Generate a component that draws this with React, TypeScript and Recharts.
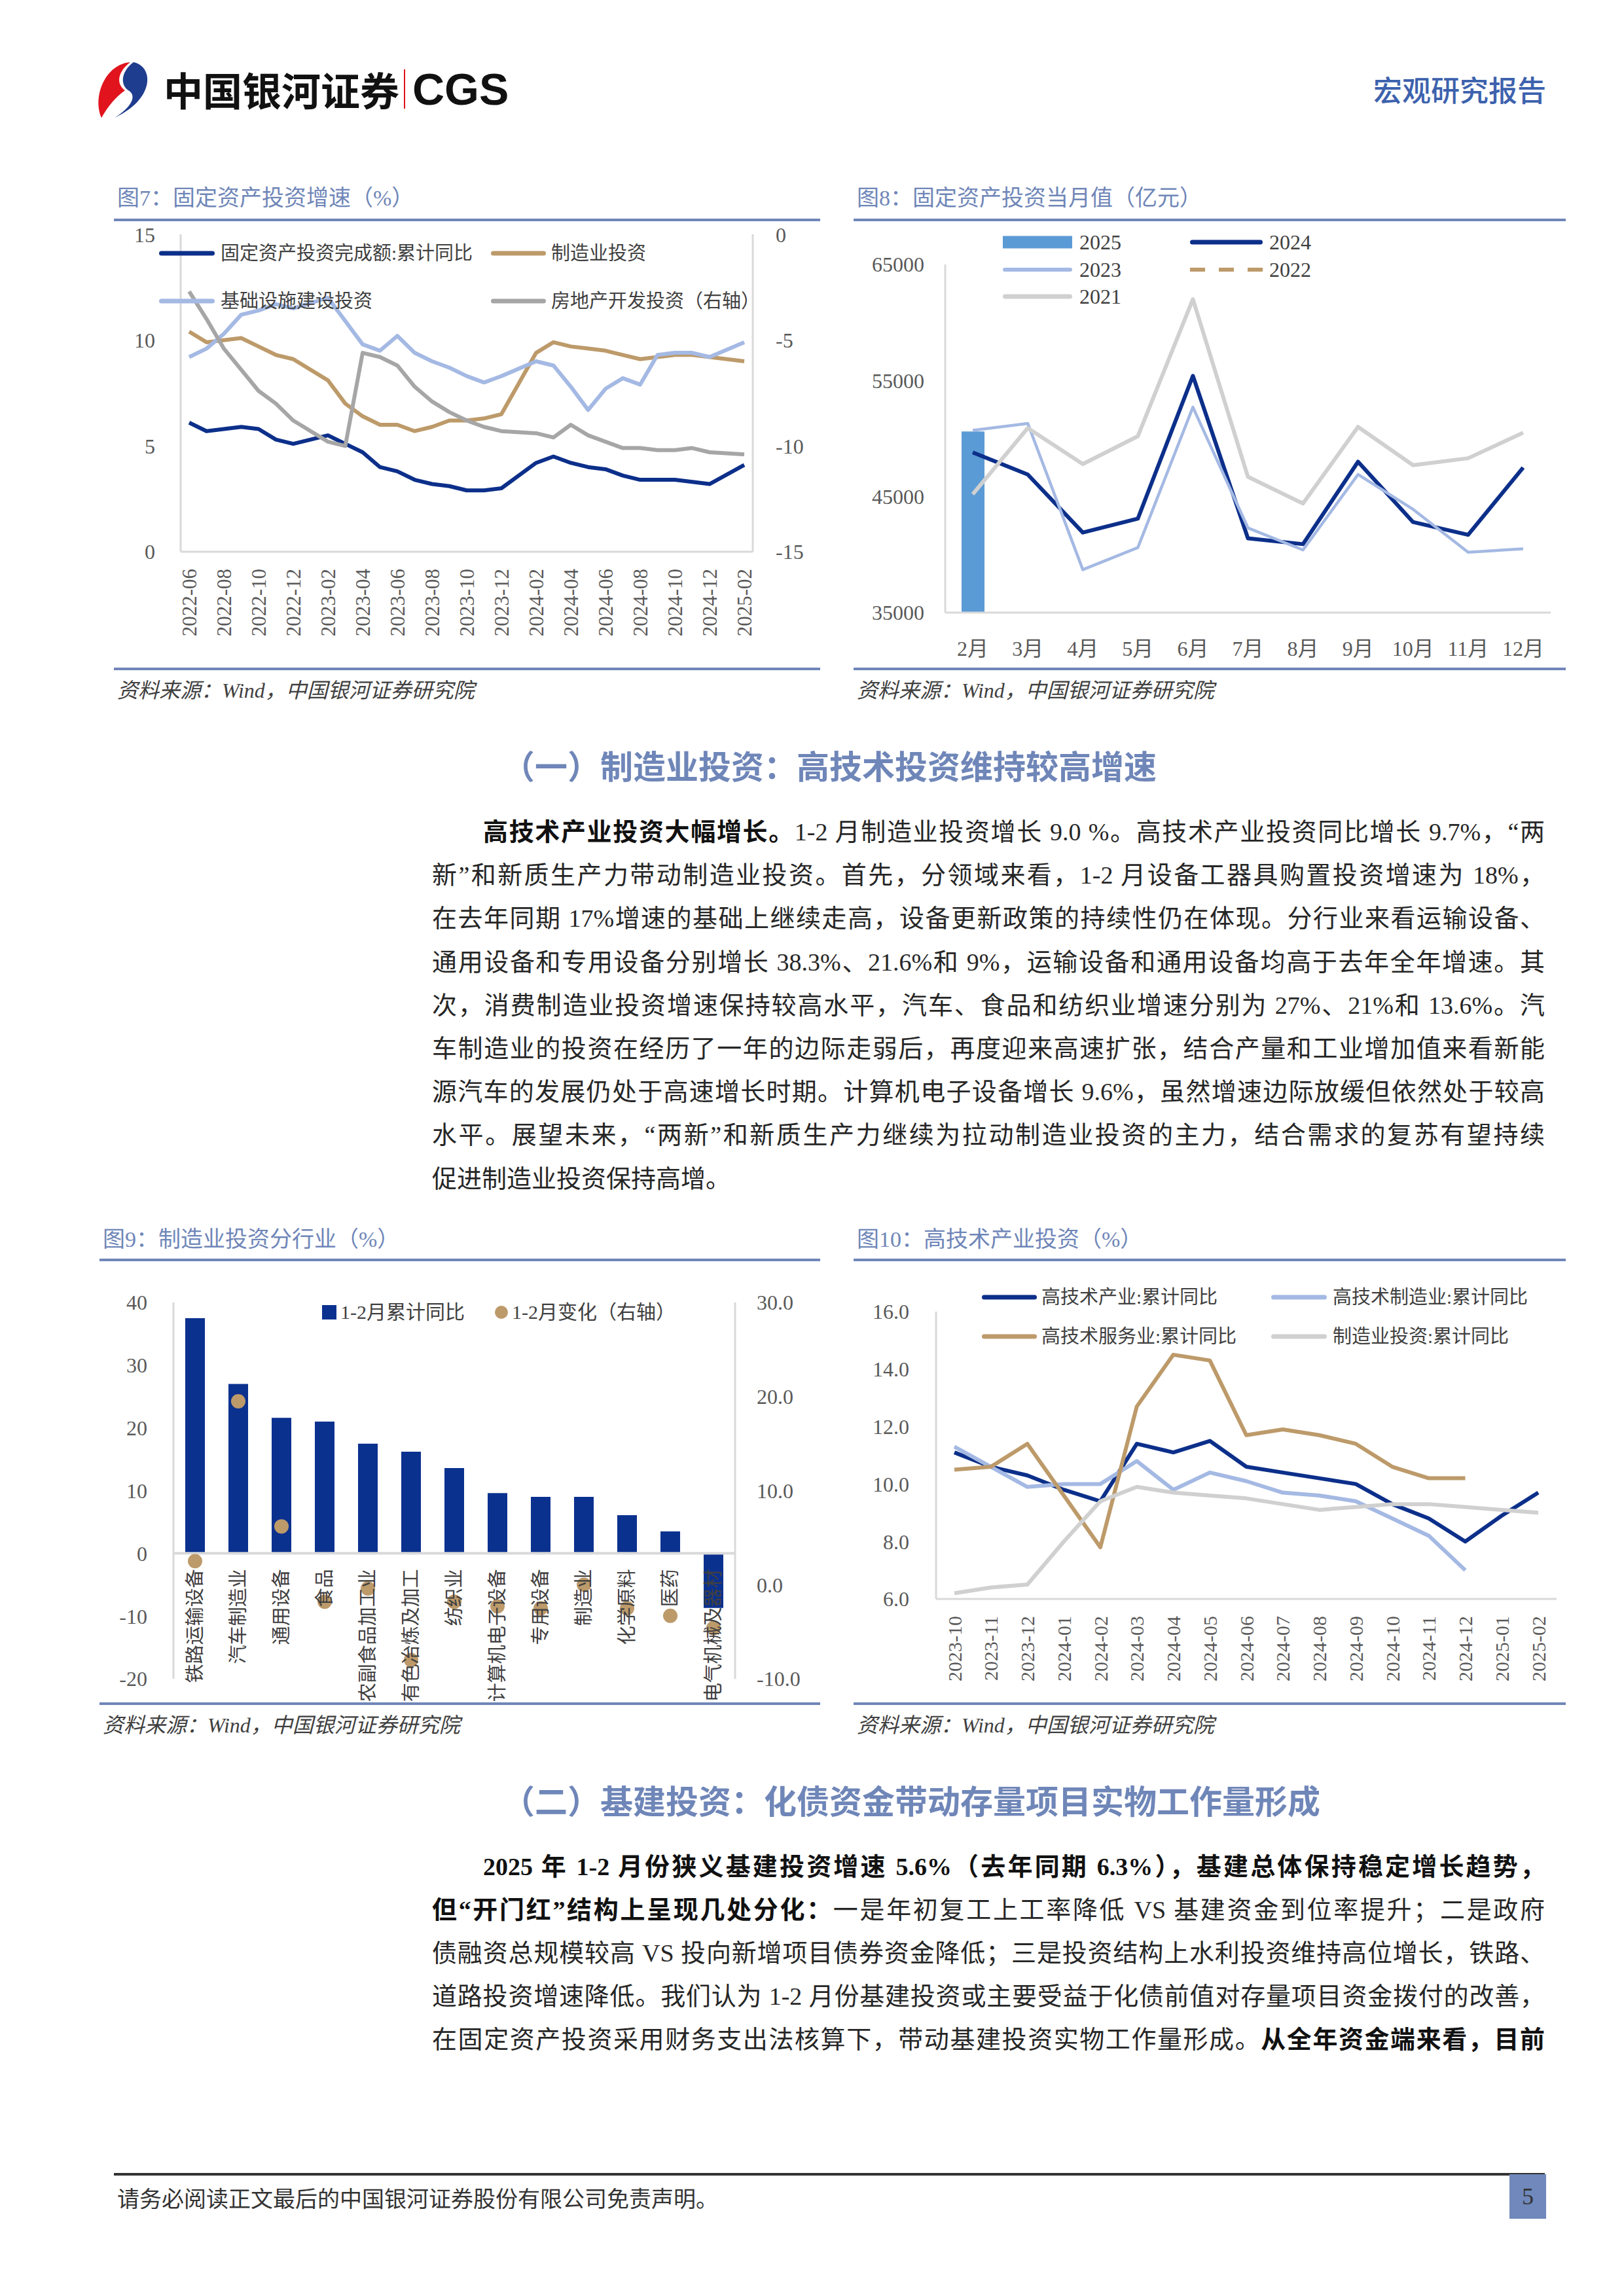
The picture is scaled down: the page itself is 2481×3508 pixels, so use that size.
import React from "react";
import { ComposedChart, Line, Bar, XAxis, YAxis, ReferenceLine } from "recharts";

/* ---------- fonts & colours ---------- */
const SERIF = '"Liberation Serif", "Noto Sans CJK SC", serif';
const SANS = '"Noto Sans CJK SC", "Noto Sans", sans-serif';

const NAVY = "#0c2f8a";
const LIGHT = "#a4b9e3";
const BROWN = "#bd9a6a";
const GRAY_DK = "#a6a6a6";
const GRAY_LT = "#d0d0d0";
const BAR_SKY = "#5b9bd5";
const BAR_NAVY = "#0b318f";
const TITLE = "#6f86b8";
const AXIS = "#d9d9d9";
const TICK = "#595959";
const TEXT = "#404040";

/* ---------- 图7 data ---------- */
const fig7Months = [
  "2022-06", "2022-07", "2022-08", "2022-09", "2022-10", "2022-11", "2022-12",
  "2023-01", "2023-02", "2023-03", "2023-04", "2023-05", "2023-06", "2023-07",
  "2023-08", "2023-09", "2023-10", "2023-11", "2023-12", "2024-01", "2024-02",
  "2024-03", "2024-04", "2024-05", "2024-06", "2024-07", "2024-08", "2024-09",
  "2024-10", "2024-11", "2024-12", "2025-01", "2025-02",
];
const fig7Fai = [6.1, 5.7, 5.8, 5.9, 5.8, 5.3, 5.1, null, 5.5, 5.1, 4.7, 4.0, 3.8, 3.4, 3.2, 3.1, 2.9, 2.9, 3.0, null, 4.2, 4.5, 4.2, 4.0, 3.9, 3.6, 3.4, 3.4, 3.4, 3.3, 3.2, null, 4.1];
const fig7Mfg = [10.4, 9.9, 10.0, 10.1, 9.7, 9.3, 9.1, null, 8.1, 7.0, 6.4, 6.0, 6.0, 5.7, 5.9, 6.2, 6.2, 6.3, 6.5, null, 9.4, 9.9, 9.7, 9.6, 9.5, 9.3, 9.1, 9.2, 9.3, 9.3, 9.2, null, 9.0];
const fig7Infra = [9.2, 9.6, 10.3, 11.2, 11.4, 11.7, 11.5, null, 12.0, 10.9, 9.8, 9.5, 10.2, 9.4, 9.0, 8.7, 8.3, 8.0, 8.3, null, 9.0, 8.8, 7.8, 6.7, 7.7, 8.2, 7.9, 9.3, 9.4, 9.4, 9.2, null, 9.9];
const fig7Re = [-2.7, -4.0, -5.4, -6.4, -7.4, -8.0, -8.8, null, -9.8, -10.0, -5.6, -5.8, -6.2, -7.2, -7.9, -8.4, -8.8, -9.1, -9.3, null, -9.4, -9.6, -9.0, -9.5, -9.8, -10.1, -10.1, -10.2, -10.2, -10.1, -10.3, null, -10.4];
const fig7Names = ["固定资产投资完成额:累计同比", "制造业投资", "基础设施建设投资", "房地产开发投资（右轴）"];

/* ---------- 图8 data ---------- */
const fig8Months = ["2月", "3月", "4月", "5月", "6月", "7月", "8月", "9月", "10月", "11月", "12月"];
const fig8Y2025 = [50600, null, null, null, null, null, null, null, null, null, null];
const fig8Y2024 = [48800, 46900, 41900, 43100, 55400, 41400, 40900, 48000, 42800, 41700, 47500];
const fig8Y2023 = [50700, 51300, 38700, 40600, 52700, 42300, 40400, 46900, 43900, 40200, 40500];
const fig8Y2022 = [null, null, null, null, null, null, null, null, null, null, null];
const fig8Y2021 = [45200, 50900, 47800, 50200, 62000, 46700, 44400, 51000, 47700, 48300, 50500];

/* ---------- 图9 data ---------- */
const fig9Industries = ["铁路运输设备", "汽车制造业", "通用设备", "食品", "农副食品加工业", "有色冶炼及加工", "纺织业", "计算机电子设备", "专用设备", "制造业", "化学原料", "医药", "电气机械及器材"];
const fig9Ytd = [37.5, 27.0, 21.6, 21.0, 17.5, 16.2, 13.6, 9.6, 9.0, 9.0, 6.1, 3.5, -8.7];
const fig9Change = [2.5, 19.5, 6.2, -1.8, -0.4, -8.0, -1.8, -2.3, -2.5, 0.0, -2.5, -3.3, -4.6];

/* ---------- 图10 data ---------- */
const fig10Months = ["2023-10", "2023-11", "2023-12", "2024-01", "2024-02", "2024-03", "2024-04", "2024-05", "2024-06", "2024-07", "2024-08", "2024-09", "2024-10", "2024-11", "2024-12", "2025-01", "2025-02"];
const fig10HighTech = [11.1, 10.6, 10.3, 9.8, 9.4, 11.4, 11.1, 11.5, 10.6, 10.4, 10.2, 10.0, 9.3, 8.8, 8.0, 8.9, 9.7];
const fig10HtMfg = [11.3, 10.6, 9.9, 10.0, 10.0, 10.8, 9.8, 10.4, 10.1, 9.7, 9.6, 9.4, 8.8, 8.2, 7.0, null, null];
const fig10HtSvc = [10.5, 10.6, 11.4, 9.6, 7.8, 12.7, 14.5, 14.3, 11.7, 11.9, 11.7, 11.4, 10.6, 10.2, 10.2, null, null];
const fig10Mfg = [6.2, 6.4, 6.5, 8.0, 9.4, 9.9, 9.7, 9.6, 9.5, 9.3, 9.1, 9.2, 9.3, 9.3, 9.2, 9.1, 9.0];
const fig10Names = ["高技术产业:累计同比", "高技术制造业:累计同比", "高技术服务业:累计同比", "制造业投资:累计同比"];

const fig7Data = fig7Months.map((m, i) => ({ m, fai: fig7Fai[i], mfg: fig7Mfg[i], infra: fig7Infra[i], re: fig7Re[i] }));
const fig8Data = fig8Months.map((m, i) => ({ m, y2025: fig8Y2025[i], y2024: fig8Y2024[i], y2023: fig8Y2023[i], y2022: fig8Y2022[i], y2021: fig8Y2021[i] }));
const fig9Data = fig9Industries.map((name, i) => ({ name, ytd: fig9Ytd[i], chg: fig9Change[i] }));
const fig10Data = fig10Months.map((m, i) => ({ m, ht: fig10HighTech[i], htm: fig10HtMfg[i], hts: fig10HtSvc[i], mfg: fig10Mfg[i] }));

const axisLine = { stroke: AXIS, strokeWidth: 3 };
const yTick = { fontSize: 32, fill: TICK, fontFamily: SERIF };

/* rotated category label, reads bottom-to-top, top end at y + gap */
function VTick(props: any) {
  const { x, y, payload, gap = 24, size = 30, lift = 0, color = TICK } = props;
  const ty = y + gap - lift;
  return (
    <text x={x} y={ty} transform={`rotate(-90 ${x} ${ty})`} textAnchor="end" dominantBaseline="central" fontSize={size} fill={color} fontFamily={SERIF}>
      {payload.value}
    </text>
  );
}

function Txt({ x, right, cy, size, children, color = TEXT, weight = 400, family = SERIF, italic = false }: any) {
  const lh = Math.round(size * 1.4);
  return (
    <div
      style={{
        position: "absolute", left: x, right, top: cy - lh / 2, height: lh, lineHeight: `${lh}px`,
        fontSize: size, color, fontWeight: weight, fontFamily: family,
        fontStyle: italic ? "italic" : "normal", whiteSpace: "nowrap",
      }}
    >
      {children}
    </div>
  );
}

function LegendItem({ x, cy, w, kind, color, thick = 7, label, textX, size = 29 }: any) {
  return (
    <>
      <svg style={{ position: "absolute", left: x, top: cy - 12 }} width={w} height={24}>
        {kind === "line" && <line x1={thick / 2} x2={w - thick / 2} y1={12} y2={12} stroke={color} strokeWidth={thick} strokeLinecap="round" />}
        {kind === "dash" && <line x1={0} x2={w} y1={12} y2={12} stroke={color} strokeWidth={thick} strokeDasharray="23 21" />}
        {kind === "rect" && <rect x={0} y={2.5} width={w} height={19} fill={color} />}
        {kind === "square" && <rect x={0} y={1} width={w} height={22} fill={color} />}
        {kind === "dot" && <circle cx={w / 2} cy={12} r={10} fill={color} />}
      </svg>
      <Txt x={textX} cy={cy} size={size}>{label}</Txt>
    </>
  );
}

function ChartFrame({ x, w, titleY, lineY, capLineY, capY, title }: any) {
  return (
    <>
      <Txt x={x + 5} cy={titleY} size={34} color={TITLE}>{title}</Txt>
      <div style={{ position: "absolute", left: x, top: lineY, width: w, height: 4, background: TITLE }} />
      <div style={{ position: "absolute", left: x, top: capLineY, width: w, height: 4, background: TITLE }} />
      <Txt x={x + 5} cy={capY} size={32} italic>资料来源：Wind，中国银河证券研究院</Txt>
    </>
  );
}

/* ---------- 图7 ---------- */
function Fig7() {
  const colors = [NAVY, BROWN, LIGHT, GRAY_DK];
  return (
    <>
      <ChartFrame x={174} w={1079} titleY={303} lineY={334} capLineY={1020} capY={1055} title="图7：固定资产投资增速（%）" />
      <div style={{ position: "absolute", left: 174, top: 340 }}>
        <ComposedChart width={1080} height={643} data={fig7Data} margin={{ top: 18, right: 0, bottom: 0, left: 0 }}>
          <XAxis dataKey="m" scale="point" interval={1} padding={{ left: 13, right: 13 }} height={140} tickSize={0} axisLine={axisLine} tick={(p: any) => <VTick {...p} gap={24} size={31} />} />
          <YAxis yAxisId="l" domain={[0, 15]} ticks={[0, 5, 10, 15]} width={102} tickSize={0} tickMargin={39} axisLine={axisLine} tick={yTick} />
          <YAxis yAxisId="r" orientation="right" domain={[-15, 0]} ticks={[-15, -10, -5, 0]} width={104} tickSize={0} tickMargin={35} axisLine={axisLine} tick={yTick} />
          <Line yAxisId="l" dataKey="fai" stroke={NAVY} strokeWidth={6} dot={false} connectNulls strokeLinejoin="round" isAnimationActive={false} />
          <Line yAxisId="l" dataKey="mfg" stroke={BROWN} strokeWidth={6} dot={false} connectNulls strokeLinejoin="round" isAnimationActive={false} />
          <Line yAxisId="l" dataKey="infra" stroke={LIGHT} strokeWidth={6} dot={false} connectNulls strokeLinejoin="round" isAnimationActive={false} />
          <Line yAxisId="r" dataKey="re" stroke={GRAY_DK} strokeWidth={6} dot={false} connectNulls strokeLinejoin="round" isAnimationActive={false} />
        </ComposedChart>
      </div>
      <LegendItem x={243} cy={387} w={85} kind="line" color={colors[0]} label={fig7Names[0]} textX={337} />
      <LegendItem x={750} cy={387} w={84} kind="line" color={colors[1]} label={fig7Names[1]} textX={842} />
      <LegendItem x={243} cy={460} w={85} kind="line" color={colors[2]} label={fig7Names[2]} textX={337} />
      <LegendItem x={750} cy={460} w={84} kind="line" color={colors[3]} label={fig7Names[3]} textX={842} />
    </>
  );
}

/* ---------- 图8 ---------- */
function Fig8() {
  return (
    <>
      <ChartFrame x={1304} w={1088} titleY={303} lineY={334} capLineY={1020} capY={1055} title="图8：固定资产投资当月值（亿元）" />
      <div style={{ position: "absolute", left: 1304, top: 380 }}>
        <ComposedChart width={1090} height={656} data={fig8Data} margin={{ top: 24, right: 25, bottom: 0, left: 0 }}>
          <XAxis
            dataKey="m" height={100} tickSize={0} axisLine={axisLine}
            tick={(p: any) => (
              <text x={p.x} y={p.y + 53} textAnchor="middle" dominantBaseline="central" fontSize={32} fill={TICK} fontFamily={SERIF}>{p.payload.value}</text>
            )}
          />
          <YAxis domain={[35000, 65000]} ticks={[35000, 45000, 55000, 65000]} width={140} tickSize={0} tickMargin={32} axisLine={axisLine} tick={yTick} />
          <Bar dataKey="y2025" fill={BAR_SKY} barSize={35} isAnimationActive={false} />
          <Line dataKey="y2024" stroke={NAVY} strokeWidth={6} dot={false} strokeLinejoin="round" isAnimationActive={false} />
          <Line dataKey="y2023" stroke={LIGHT} strokeWidth={4.5} dot={false} strokeLinejoin="round" isAnimationActive={false} />
          <Line dataKey="y2022" stroke={BROWN} strokeWidth={5} strokeDasharray="14 10" dot={false} isAnimationActive={false} />
          <Line dataKey="y2021" stroke={GRAY_LT} strokeWidth={6} dot={false} strokeLinejoin="round" isAnimationActive={false} />
        </ComposedChart>
      </div>
      <LegendItem x={1532} cy={370} w={106} kind="rect" color={BAR_SKY} label="2025" textX={1649} size={32} />
      <LegendItem x={1818} cy={370} w={111} kind="line" color={NAVY} label="2024" textX={1939} size={32} />
      <LegendItem x={1532} cy={412} w={106} kind="line" color={LIGHT} thick={6} label="2023" textX={1649} size={32} />
      <LegendItem x={1818} cy={412} w={111} kind="dash" color={BROWN} thick={6} label="2022" textX={1939} size={32} />
      <LegendItem x={1532} cy={453} w={106} kind="line" color={GRAY_LT} label="2021" textX={1649} size={32} />
    </>
  );
}

/* ---------- 图9 ---------- */
const FIG9_PLOT_H = 575;
const FIG9_LEFT = [-20, 40];
function Fig9() {
  const zeroLift = (FIG9_PLOT_H * (0 - FIG9_LEFT[0])) / (FIG9_LEFT[1] - FIG9_LEFT[0]);
  return (
    <>
      <ChartFrame x={152} w={1101} titleY={1894} lineY={1923} capLineY={2601} capY={2636} title="图9：制造业投资分行业（%）" />
      <div style={{ position: "absolute", left: 152, top: 1960 }}>
        <ComposedChart width={1101} height={645} data={fig9Data} margin={{ top: 30, right: 0, bottom: 0, left: 0 }}>
          <XAxis dataKey="name" height={40} tickSize={0} axisLine={false} interval={0}
            tick={(p: any) => <VTick {...p} gap={22} lift={zeroLift} size={29} color={TEXT} />} />
          <YAxis yAxisId="l" domain={FIG9_LEFT} ticks={[-20, -10, 0, 10, 20, 30, 40]} width={113} tickSize={0} tickMargin={40} axisLine={axisLine} tick={yTick} />
          <YAxis yAxisId="r" orientation="right" domain={[-10, 30]} ticks={[-10, 0, 10, 20, 30]} tickFormatter={(v: number) => v.toFixed(1)} width={130} tickSize={0} tickMargin={33} axisLine={axisLine} tick={yTick} />
          <ReferenceLine yAxisId="l" y={0} stroke={AXIS} strokeWidth={4} />
          <Bar yAxisId="l" dataKey="ytd" fill={BAR_NAVY} barSize={30} isAnimationActive={false} />
          <Line yAxisId="r" dataKey="chg" stroke="none" dot={{ r: 11, fill: BROWN, stroke: "none" }} activeDot={false} isAnimationActive={false} />
        </ComposedChart>
      </div>
      <LegendItem x={492} cy={2005} w={22} kind="square" color={BAR_NAVY} label="1-2月累计同比" textX={520} size={30} />
      <LegendItem x={756} cy={2005} w={20} kind="dot" color={BROWN} label="1-2月变化（右轴）" textX={782} size={30} />
    </>
  );
}

/* ---------- 图10 ---------- */
function Fig10() {
  return (
    <>
      <ChartFrame x={1304} w={1088} titleY={1894} lineY={1923} capLineY={2601} capY={2636} title="图10：高技术产业投资（%）" />
      <div style={{ position: "absolute", left: 1304, top: 1980 }}>
        <ComposedChart width={1090} height={603} data={fig10Data} margin={{ top: 24, right: 16, bottom: 0, left: 0 }}>
          <XAxis dataKey="m" scale="point" interval={0} padding={{ left: 28, right: 28 }} height={140} tickSize={0} axisLine={axisLine} tick={(p: any) => <VTick {...p} gap={24} size={30} />} />
          <YAxis domain={[6, 16]} ticks={[6, 8, 10, 12, 14, 16]} tickFormatter={(v: number) => v.toFixed(1)} width={126} tickSize={0} tickMargin={41} axisLine={axisLine} tick={yTick} />
          <Line dataKey="ht" stroke={NAVY} strokeWidth={6} dot={false} strokeLinejoin="round" isAnimationActive={false} />
          <Line dataKey="htm" stroke={LIGHT} strokeWidth={6} dot={false} strokeLinejoin="round" isAnimationActive={false} />
          <Line dataKey="hts" stroke={BROWN} strokeWidth={6} dot={false} strokeLinejoin="round" isAnimationActive={false} />
          <Line dataKey="mfg" stroke={GRAY_LT} strokeWidth={6} dot={false} strokeLinejoin="round" isAnimationActive={false} />
        </ComposedChart>
      </div>
      <LegendItem x={1500} cy={1982} w={84} kind="line" color={NAVY} label={fig10Names[0]} textX={1591} />
      <LegendItem x={1942} cy={1982} w={85} kind="line" color={LIGHT} label={fig10Names[1]} textX={2036} />
      <LegendItem x={1500} cy={2042} w={84} kind="line" color={BROWN} label={fig10Names[2]} textX={1591} />
      <LegendItem x={1942} cy={2042} w={85} kind="line" color={GRAY_LT} label={fig10Names[3]} textX={2036} />
    </>
  );
}

/* ---------- page text ---------- */
function BodyLine({ cy, indent = false, last = false, children }: any) {
  return (
    <div
      style={{
        position: "absolute", left: 660, width: 1700, top: cy - 33, height: 66, lineHeight: "66px",
        fontSize: 38, fontFamily: SERIF, color: "#262626", paddingLeft: indent ? 78 : 0, boxSizing: "border-box",
        textAlign: last ? "left" : "justify", textAlignLast: last ? "left" : "justify", overflow: "hidden",
      }}
    >
      {children}
    </div>
  );
}

const B = ({ children }: any) => <b style={{ fontWeight: 700, color: "#111" }}>{children}</b>;

function Header() {
  return (
    <>
      <svg style={{ position: "absolute", left: 139, top: 92 }} width={100} height={90} viewBox="0 0 100 90">
        <path d="M60 3 C 22 6, 2 55, 16 88 C 26 70, 38 56, 52 46 C 40 38, 38 20, 60 3 Z" fill="#e1141e" />
        <path d="M65 3 C 97 10, 97 60, 36 88 C 62 72, 71 54, 57 46 C 45 38, 45 18, 65 3 Z" fill="#1f3d8e" />
      </svg>
      <Txt x={250} cy={136} size={60} weight={700} family={SANS} color="#111">中国银河证券</Txt>
      <div style={{ position: "absolute", left: 617, top: 106, width: 2, height: 60, background: "#e1141e" }} />
      <Txt x={630} cy={136} size={68} weight={700} family='"Liberation Sans", Arial, sans-serif' color="#111">CGS</Txt>
      <Txt right={119} cy={136} size={44} weight={500} family={SANS} color="#3d62ad">宏观研究报告</Txt>
    </>
  );
}

export default function App() {
  return (
    <div style={{ position: "relative", width: 2481, height: 3508, background: "#fff", overflow: "hidden" }}>
      <style>{"body{margin:0}"}</style>
      <Header />
      <Fig7 />
      <Fig8 />

      <Txt x={767} cy={1168} size={50} weight={700} family={SANS} color={TITLE}>（一）制造业投资：高技术投资维持较高增速</Txt>
      <BodyLine cy={1271} indent><B>高技术产业投资大幅增长。</B>1-2 月制造业投资增长 9.0 %。高技术产业投资同比增长 9.7%，“两</BodyLine>
      <BodyLine cy={1337}>新”和新质生产力带动制造业投资。首先，分领域来看，1-2 月设备工器具购置投资增速为 18%，</BodyLine>
      <BodyLine cy={1403}>在去年同期 17%增速的基础上继续走高，设备更新政策的持续性仍在体现。分行业来看运输设备、</BodyLine>
      <BodyLine cy={1470}>通用设备和专用设备分别增长 38.3%、21.6%和 9%，运输设备和通用设备均高于去年全年增速。其</BodyLine>
      <BodyLine cy={1536}>次，消费制造业投资增速保持较高水平，汽车、食品和纺织业增速分别为 27%、21%和 13.6%。汽</BodyLine>
      <BodyLine cy={1602}>车制造业的投资在经历了一年的边际走弱后，再度迎来高速扩张，结合产量和工业增加值来看新能</BodyLine>
      <BodyLine cy={1668}>源汽车的发展仍处于高速增长时期。计算机电子设备增长 9.6%，虽然增速边际放缓但依然处于较高</BodyLine>
      <BodyLine cy={1734}>水平。展望未来，“两新”和新质生产力继续为拉动制造业投资的主力，结合需求的复苏有望持续</BodyLine>
      <BodyLine cy={1801} last>促进制造业投资保持高增。</BodyLine>

      <Fig9 />
      <Fig10 />

      <Txt x={767} cy={2749} size={50} weight={700} family={SANS} color={TITLE}>（二）基建投资：化债资金带动存量项目实物工作量形成</Txt>
      <BodyLine cy={2852} indent><B>2025 年 1-2 月份狭义基建投资增速 5.6%（去年同期 6.3%），基建总体保持稳定增长趋势，</B></BodyLine>
      <BodyLine cy={2918}><B>但“开门红”结构上呈现几处分化：</B>一是年初复工上工率降低 VS 基建资金到位率提升；二是政府</BodyLine>
      <BodyLine cy={2984}>债融资总规模较高 VS 投向新增项目债券资金降低；三是投资结构上水利投资维持高位增长，铁路、</BodyLine>
      <BodyLine cy={3050}>道路投资增速降低。我们认为 1-2 月份基建投资或主要受益于化债前值对存量项目资金拨付的改善，</BodyLine>
      <BodyLine cy={3116}>在固定资产投资采用财务支出法核算下，带动基建投资实物工作量形成。<B>从全年资金端来看，目前</B></BodyLine>

      <div style={{ position: "absolute", left: 174, top: 3320, width: 2186, height: 4, background: "#333" }} />
      <Txt x={179} cy={3358} size={34} color="#333" family={SANS}>请务必阅读正文最后的中国银河证券股份有限公司免责声明。</Txt>
      <div style={{ position: "absolute", left: 2306, top: 3322, width: 56, height: 68, background: "#7088bb", display: "flex", alignItems: "center", justifyContent: "center", fontSize: 36, color: "#333", fontFamily: SERIF }}>5</div>
    </div>
  );
}
